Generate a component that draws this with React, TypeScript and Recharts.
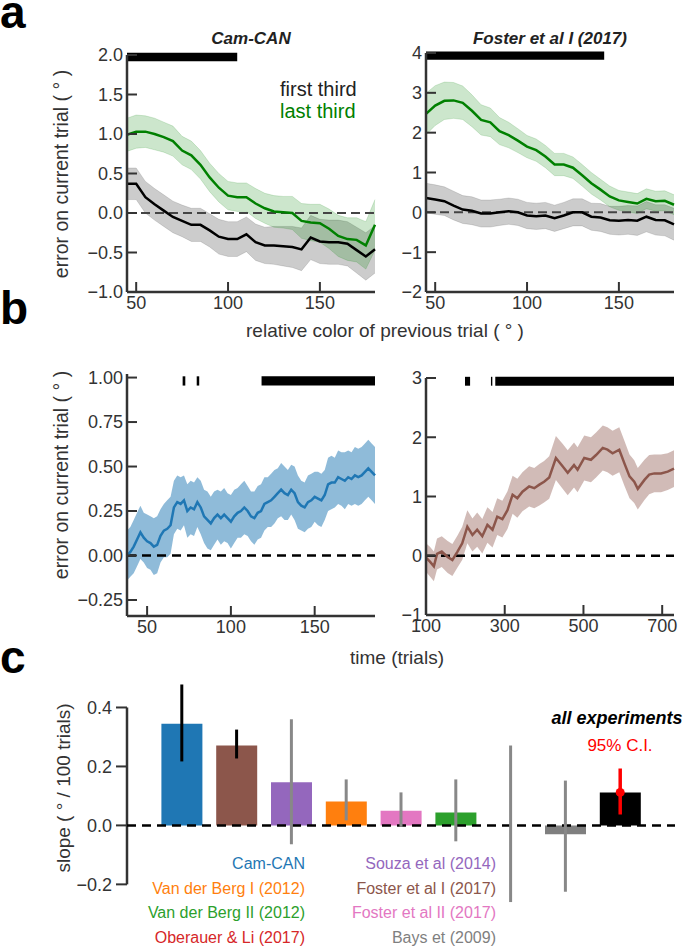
import React from 'react';
import {
  ComposedChart,
  Line,
  Area,
  Bar,
  Cell,
  XAxis,
  YAxis,
  ReferenceLine,
  ReferenceArea,
  ReferenceDot,
} from 'recharts';

const FONT = '"Liberation Sans", Arial, sans-serif';
const INK = '#333';
const GREEN = '#008000';

// ---- panel a: bias vs relative colour of previous trial ----
const relColor = [
  45, 50, 55, 60, 65, 70, 75, 80, 85, 90,
  95, 100, 105, 110, 115, 120, 125, 130, 135, 140,
  145, 150, 155, 160, 165, 170, 175, 180,
];
const camFirst = [
  0.37, 0.37, 0.2, 0.11, 0.03, -0.05, -0.1, -0.15, -0.15, -0.22,
  -0.3, -0.33, -0.33, -0.27, -0.37, -0.41, -0.41, -0.42, -0.43, -0.46,
  -0.31, -0.36, -0.37, -0.37, -0.39, -0.47, -0.55, -0.46,
];
const camFirstCi = [
  0.2, 0.2, 0.2, 0.2, 0.2, 0.2, 0.2, 0.21, 0.21, 0.21,
  0.22, 0.22, 0.22, 0.22, 0.23, 0.23, 0.24, 0.25, 0.26, 0.27,
  0.28, 0.28, 0.28, 0.28, 0.28, 0.29, 0.3, 0.3,
];
const camLast = [
  0.99, 1.03, 1.03, 1.0, 0.96, 0.91, 0.79, 0.73, 0.61, 0.45,
  0.32, 0.22, 0.2, 0.2, 0.12, 0.06, 0.02, 0.01, 0.0, -0.1,
  -0.12, -0.13, -0.2, -0.29, -0.33, -0.34, -0.41, -0.15,
];
const camLastCi = [
  0.21, 0.21, 0.2, 0.2, 0.19, 0.19, 0.18, 0.18, 0.18, 0.18,
  0.18, 0.18, 0.18, 0.18, 0.19, 0.19, 0.2, 0.2, 0.21, 0.22,
  0.23, 0.24, 0.25, 0.26, 0.27, 0.28, 0.3, 0.32,
];
const fosFirst = [
  0.36, 0.32, 0.28, 0.17, 0.07, 0.04, -0.03, -0.03, 0.0, 0.03,
  0.0, -0.08, -0.1, -0.08, -0.15, -0.08, 0.0, 0.0, -0.11, -0.13,
  -0.2, -0.21, -0.19, -0.21, -0.11, -0.19, -0.2, -0.3,
];
const fosFirstCi = [
  0.37, 0.37, 0.36, 0.36, 0.35, 0.35, 0.34, 0.34, 0.33, 0.33,
  0.33, 0.33, 0.33, 0.33, 0.33, 0.33, 0.34, 0.34, 0.34, 0.35,
  0.35, 0.36, 0.36, 0.37, 0.38, 0.38, 0.39, 0.4,
];
const fosLast = [
  2.47, 2.68, 2.8, 2.81, 2.75, 2.55, 2.32, 2.26, 2.04, 1.94,
  1.8, 1.65, 1.56, 1.4, 1.2, 1.2, 1.12, 0.93, 0.73, 0.57,
  0.4, 0.3, 0.26, 0.22, 0.34, 0.28, 0.29, 0.19,
];
const fosLastCi = [
  0.52, 0.5, 0.47, 0.45, 0.42, 0.4, 0.38, 0.36, 0.34, 0.32,
  0.3, 0.28, 0.28, 0.28, 0.28, 0.28, 0.27, 0.27, 0.27, 0.26,
  0.26, 0.25, 0.25, 0.25, 0.25, 0.25, 0.25, 0.25,
];
const camColorSig = [[45, 105]];
const fosColorSig = [[45, 142]];

// ---- panel b: bias over time ----
const camTrials = [
  38, 40, 42, 44, 46, 48, 50, 52, 54, 56,
  58, 60, 62, 64, 66, 68, 70, 72, 74, 76,
  78, 80, 82, 84, 86, 88, 90, 92, 94, 96,
  98, 100, 102, 104, 106, 108, 110, 112, 114, 116,
  118, 120, 122, 124, 126, 128, 130, 132, 134, 136,
  138, 140, 142, 144, 146, 148, 150, 152, 154, 156,
  158, 160, 162, 164, 166, 168, 170, 172, 174, 176,
  178, 180, 182, 184, 186,
];
const camBias = [
  0.0, 0.02, 0.05, 0.09, 0.13, 0.1, 0.08, 0.07, 0.05, 0.06,
  0.11, 0.14, 0.15, 0.17, 0.27, 0.3, 0.29, 0.31, 0.25, 0.27,
  0.26, 0.3, 0.27, 0.22, 0.2, 0.18, 0.21, 0.23, 0.21, 0.23,
  0.21, 0.19, 0.22, 0.24, 0.25, 0.27, 0.25, 0.22, 0.21, 0.24,
  0.25, 0.29, 0.3, 0.31, 0.33, 0.35, 0.37, 0.35, 0.34, 0.37,
  0.35, 0.3, 0.28, 0.27, 0.3, 0.31, 0.33, 0.32, 0.31, 0.34,
  0.4, 0.41, 0.41, 0.44, 0.43, 0.42, 0.44, 0.43, 0.45, 0.44,
  0.45, 0.47, 0.49, 0.47, 0.45,
];
const camBiasCi = [
  0.14, 0.14, 0.15, 0.15, 0.15, 0.14, 0.15, 0.15, 0.16, 0.16,
  0.15, 0.15, 0.16, 0.16, 0.15, 0.15, 0.15, 0.14, 0.15, 0.15,
  0.15, 0.14, 0.15, 0.15, 0.16, 0.15, 0.15, 0.14, 0.15, 0.15,
  0.14, 0.15, 0.15, 0.14, 0.15, 0.15, 0.14, 0.14, 0.15, 0.15,
  0.15, 0.15, 0.14, 0.15, 0.15, 0.14, 0.15, 0.15, 0.14, 0.14,
  0.15, 0.15, 0.14, 0.14, 0.15, 0.15, 0.14, 0.15, 0.15, 0.14,
  0.15, 0.15, 0.14, 0.15, 0.15, 0.16, 0.15, 0.15, 0.16, 0.16,
  0.16, 0.16, 0.16, 0.16, 0.16,
];
const fosTrials = [
  100, 110, 120, 128, 140, 155, 167, 180, 192, 205,
  218, 230, 243, 256, 269, 281, 294, 307, 320, 332,
  345, 362, 375, 388, 400, 413, 430, 447, 460, 476,
  485, 502, 519, 532, 549, 561, 574, 591, 604, 617,
  629, 638, 655, 667, 680, 697, 714, 730,
];
const fosBias = [
  -0.03, -0.1, -0.18, 0.03, 0.07, -0.02, -0.07, 0.07, 0.21, 0.49,
  0.35, 0.44, 0.33, 0.52, 0.44, 0.66, 0.62, 0.77, 1.03, 0.97,
  1.08, 1.17, 1.14, 1.2, 1.25, 1.32, 1.65, 1.51, 1.4, 1.53,
  1.45, 1.65, 1.62, 1.7, 1.82, 1.79, 1.73, 1.79, 1.56, 1.34,
  1.25, 1.13, 1.28, 1.37, 1.39, 1.39, 1.42, 1.47,
];
const fosBiasCi = [
  0.24, 0.25, 0.25, 0.26, 0.26, 0.27, 0.27, 0.27, 0.28, 0.28,
  0.28, 0.29, 0.29, 0.3, 0.3, 0.31, 0.31, 0.32, 0.32, 0.33,
  0.33, 0.34, 0.34, 0.35, 0.35, 0.36, 0.37, 0.38, 0.38, 0.38,
  0.38, 0.38, 0.38, 0.38, 0.38, 0.38, 0.38, 0.38, 0.38, 0.37,
  0.36, 0.35, 0.34, 0.33, 0.32, 0.32, 0.31, 0.31,
];
const camTimeSig = [[71.2, 72.8], [79.6, 81.1], [118.3, 186]];
const fosTimeSig = [[199, 212], [265, 268.5], [276, 730]];

// ---- panel c: slopes per study ----
const studies = [
  'Cam-CAN', 'Foster et al I (2017)', 'Souza et al (2014)', 'Van der Berg I (2012)',
  'Foster et al II (2017)', 'Van der Berg II (2012)', 'Oberauer & Li (2017)',
  'Bays et (2009)', 'all experiments',
];
const slopes = [0.345, 0.271, 0.146, 0.081, 0.05, 0.044, 0.0, -0.03, 0.112];
const slopeLo = [0.217, 0.227, -0.064, 0.017, -0.005, -0.054, -0.26, -0.225, 0.037];
const slopeHi = [0.478, 0.325, 0.36, 0.156, 0.112, 0.156, 0.271, 0.152, 0.193];
const barColors = ['#1f77b4', '#8c564b', '#9467bd', '#ff7f0e', '#e377c2', '#2ca02c', '#d62728', '#7f7f7f', '#000000'];
const errColors = ['#000', '#000', '#888', '#888', '#888', '#888', '#888', '#888', '#ff0000'];

// label columns under panel c
const leftCol = [
  ['Cam-CAN', '#1f77b4'],
  ['Van der Berg I (2012)', '#ff7f0e'],
  ['Van der Berg II (2012)', '#2ca02c'],
  ['Oberauer & Li (2017)', '#d62728'],
];
const rightCol = [
  ['Souza et al (2014)', '#9467bd'],
  ['Foster et al I (2017)', '#8c564b'],
  ['Foster et al II (2017)', '#e377c2'],
  ['Bays et (2009)', '#7f7f7f'],
];

const MT = 15;
const MR = 14;
const YW = 64;
const XH = 40;

function frame(px: number, py: number, w: number, h: number, bottom: number) {
  return {
    position: 'absolute' as const,
    left: px - YW,
    top: py - MT,
    width: YW + w + MR,
    height: MT + h + bottom,
  };
}

const minus = (s: string) => s.replace('-', '\u2212');
const fmt0 = (v: number) => minus(v.toFixed(0));
const fmt1 = (v: number) => minus(v.toFixed(1));
const fmt2 = (v: number) => minus(v.toFixed(2));

const inTicks = {
  axisLine: { stroke: INK, strokeWidth: 2.5 },
  tickLine: { stroke: INK, strokeWidth: 2 },
  tickSize: -10,
  tickMargin: 14,
  tick: { fill: INK, fontSize: 18 },
  interval: 0 as const,
};

function ThirdsPanel({ px, py, w, h, first, firstCi, last, lastCi, yDomain, yTicks, fmt, sig, sigY }: any) {
  const rows = relColor.map((x, i) => ({
    x,
    first: first[i],
    firstBand: [first[i] - firstCi[i], first[i] + firstCi[i]],
    last: last[i],
    lastBand: [last[i] - lastCi[i], last[i] + lastCi[i]],
  }));
  return (
    <div style={frame(px, py, w, h, XH)}>
      <ComposedChart width={YW + w + MR} height={MT + h + XH} data={rows} margin={{ top: MT, right: MR, bottom: 0, left: 0 }}>
        <XAxis dataKey="x" type="number" domain={[45, 180]} ticks={[50, 100, 150]} height={XH} {...inTicks} />
        <YAxis type="number" domain={yDomain} ticks={yTicks} width={YW} tickFormatter={fmt} {...inTicks} />
        <Area dataKey="firstBand" type="linear" fill="#000" fillOpacity={0.2} stroke="#000" strokeOpacity={0.12} isAnimationActive={false} activeDot={false} />
        <Area dataKey="lastBand" type="linear" fill={GREEN} fillOpacity={0.2} stroke={GREEN} strokeOpacity={0.15} isAnimationActive={false} activeDot={false} />
        <ReferenceLine y={0} stroke="#444" strokeWidth={2} strokeDasharray="9 5" />
        <Line dataKey="first" type="linear" stroke="#000" strokeWidth={2.5} dot={false} activeDot={false} isAnimationActive={false} />
        <Line dataKey="last" type="linear" stroke={GREEN} strokeWidth={2.5} dot={false} activeDot={false} isAnimationActive={false} />
        {sig.map(([a, b]: number[], k: number) => (
          <ReferenceArea key={k} x1={a} x2={b} y1={sigY[0]} y2={sigY[1]} fill="#000" fillOpacity={1} stroke="none" ifOverflow="visible" />
        ))}
      </ComposedChart>
    </div>
  );
}

function TimePanel({ px, py, w, h, xs, ys, ci, xDomain, xTicks, yDomain, yTicks, fmt, color, bandOpacity, sig, sigY }: any) {
  const rows = xs.map((x: number, i: number) => ({ x, y: ys[i], band: [ys[i] - ci[i], ys[i] + ci[i]] }));
  return (
    <div style={frame(px, py, w, h, XH)}>
      <ComposedChart width={YW + w + MR} height={MT + h + XH} data={rows} margin={{ top: MT, right: MR, bottom: 0, left: 0 }}>
        <XAxis dataKey="x" type="number" domain={xDomain} ticks={xTicks} height={XH} {...inTicks} />
        <YAxis type="number" domain={yDomain} ticks={yTicks} width={YW} tickFormatter={fmt} {...inTicks} />
        <Area dataKey="band" type="linear" fill={color} fillOpacity={bandOpacity} stroke="none" isAnimationActive={false} activeDot={false} />
        <ReferenceLine y={0} stroke="#000" strokeWidth={2.5} strokeDasharray="9 6" />
        <Line dataKey="y" type="linear" stroke={color} strokeWidth={2.5} dot={false} activeDot={false} isAnimationActive={false} />
        {sig.map(([a, b]: number[], k: number) => (
          <ReferenceArea key={k} x1={a} x2={b} y1={sigY[0]} y2={sigY[1]} fill="#000" fillOpacity={1} stroke="none" ifOverflow="visible" />
        ))}
      </ComposedChart>
    </div>
  );
}

function SlopePanel() {
  const px = 127, py = 677.5, w = 548, h = 227;
  const rows = slopes.map((v, i) => ({ i, v, name: studies[i] }));
  return (
    <div style={frame(px, py, w, h, 10)}>
      <ComposedChart width={YW + w + MR} height={MT + h + 10} data={rows} margin={{ top: MT, right: MR, bottom: 10, left: 0 }}>
        <XAxis dataKey="i" type="number" domain={[-1, 9]} hide />
        <YAxis
          type="number"
          domain={[-0.27, 0.5]}
          ticks={[-0.2, 0, 0.2, 0.4]}
          width={YW}
          tickFormatter={fmt1}
          axisLine={false}
          tickLine={{ stroke: INK, strokeWidth: 2 }}
          tickSize={11}
          tickMargin={4}
          tick={{ fill: INK, fontSize: 18 }}
          interval={0}
        />
        <Bar dataKey="v" barSize={41} isAnimationActive={false}>
          {rows.map((r) => (
            <Cell key={r.i} fill={barColors[r.i]} />
          ))}
        </Bar>
        <ReferenceLine segment={[{ x: -1, y: -0.2 }, { x: -1, y: 0.4 }]} stroke={INK} strokeWidth={2.5} />
        <ReferenceLine y={0} stroke="#000" strokeWidth={2.5} strokeDasharray="9 6" />
        {rows.map((r) => (
          <ReferenceLine
            key={'e' + r.i}
            segment={[{ x: r.i, y: slopeLo[r.i] }, { x: r.i, y: slopeHi[r.i] }]}
            stroke={errColors[r.i]}
            strokeWidth={r.i === 8 ? 3.5 : 3}
          />
        ))}
        <ReferenceDot x={8} y={slopes[8]} r={4.5} fill="#ff0000" stroke="none" />
      </ComposedChart>
    </div>
  );
}

export default function App() {
  return (
    <div style={{ position: 'absolute', left: 0, top: 0, width: 685, height: 949, overflow: 'hidden', background: '#fff', fontFamily: FONT }}>
      <ThirdsPanel
        px={127} py={55} w={248} h={237}
        first={camFirst} firstCi={camFirstCi} last={camLast} lastCi={camLastCi}
        yDomain={[-1, 2]} yTicks={[-1, -0.5, 0, 0.5, 1, 1.5, 2]} fmt={fmt1}
        sig={camColorSig} sigY={[1.92, 2.03]}
      />
      <ThirdsPanel
        px={426} py={53} w={248} h={239}
        first={fosFirst} firstCi={fosFirstCi} last={fosLast} lastCi={fosLastCi}
        yDomain={[-2, 4]} yTicks={[-2, -1, 0, 1, 2, 3, 4]} fmt={fmt0}
        sig={fosColorSig} sigY={[3.83, 4.04]}
      />
      <TimePanel
        px={127} py={374.4} w={248} h={242}
        xs={camTrials} ys={camBias} ci={camBiasCi}
        xDomain={[38, 186]} xTicks={[50, 100, 150]}
        yDomain={[-0.34, 1.02]} yTicks={[-0.25, 0, 0.25, 0.5, 0.75, 1]} fmt={fmt2}
        color="#1f77b4" bandOpacity={0.5}
        sig={camTimeSig} sigY={[0.955, 1.007]}
      />
      <TimePanel
        px={426} py={378} w={248} h={237}
        xs={fosTrials} ys={fosBias} ci={fosBiasCi}
        xDomain={[100, 730]} xTicks={[100, 300, 500, 700]}
        yDomain={[-1, 3]} yTicks={[-1, 0, 1, 2, 3]} fmt={fmt0}
        color="#8c564b" bandOpacity={0.4}
        sig={fosTimeSig} sigY={[2.87, 3.02]}
      />
      <SlopePanel />
      <svg width={685} height={949} style={{ position: 'absolute', left: 0, top: 0, pointerEvents: 'none' }} fontFamily={FONT}>
        <text x={0} y={28} fontSize={46} fontWeight="bold" fill="#000">a</text>
        <text x={0} y={324} fontSize={46} fontWeight="bold" fill="#000">b</text>
        <text x={0} y={673} fontSize={46} fontWeight="bold" fill="#000">c</text>

        <text x={251} y={44} fontSize={17} fontWeight="bold" fontStyle="italic" textAnchor="middle" fill="#222">Cam-CAN</text>
        <text x={550} y={44} fontSize={17} fontWeight="bold" fontStyle="italic" textAnchor="middle" fill="#222">Foster et al I (2017)</text>

        <text x={280} y={96} fontSize={20} fill="#222">first third</text>
        <text x={280} y={118} fontSize={20} fill={GREEN}>last third</text>

        <text transform="translate(68,174) rotate(-90)" fontSize={19.5} textAnchor="middle" fill={INK}>error on current trial ( ° )</text>
        <text transform="translate(68,475) rotate(-90)" fontSize={19.5} textAnchor="middle" fill={INK}>error on current trial ( ° )</text>
        <text transform="translate(70,788) rotate(-90)" fontSize={19} textAnchor="middle" fill={INK}>slope ( ° / 100 trials)</text>

        <text x={385} y={337} fontSize={19} textAnchor="middle" fill={INK}>relative color of previous trial ( ° )</text>
        <text x={397} y={664} fontSize={19} textAnchor="middle" fill={INK}>time (trials)</text>

        {leftCol.map(([t, c], k) => (
          <text key={'l' + k} x={305} y={869 + k * 24.7} fontSize={16} textAnchor="end" fill={c}>{t}</text>
        ))}
        {rightCol.map(([t, c], k) => (
          <text key={'r' + k} x={496} y={869 + k * 24.7} fontSize={16} textAnchor="end" fill={c}>{t}</text>
        ))}

        <text x={617} y={724} fontSize={18} fontWeight="bold" fontStyle="italic" textAnchor="middle" fill="#000">all experiments</text>
        <text x={620} y={751} fontSize={17} textAnchor="middle" fill="#ff0000">95% C.I.</text>
      </svg>
    </div>
  );
}
